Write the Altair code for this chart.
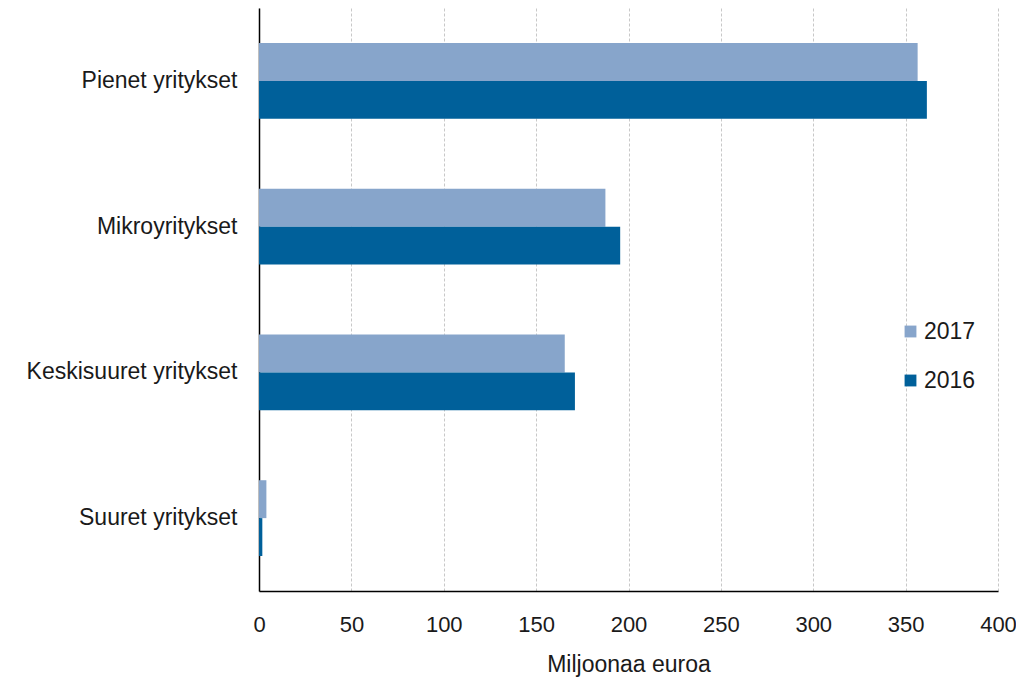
import altair as alt
import pandas as pd

categories = ["Pienet yritykset", "Mikroyritykset", "Keskisuuret yritykset", "Suuret yritykset"]
years = ["2017", "2016"]
values_2017 = [356.5, 187.5, 165.5, 4.0]
values_2016 = [361.5, 195.5, 171.0, 1.8]
x_ticks = [0, 50, 100, 150, 200, 250, 300, 350, 400]
colors = ["#87a5cb", "#00609a"]

rows = []
for c, v in zip(categories, values_2017):
    rows.append({"category": c, "year": "2017", "value": v})
for c, v in zip(categories, values_2016):
    rows.append({"category": c, "year": "2016", "value": v})
df = pd.DataFrame(rows)

font = "Liberation Sans"
fs = 22

chart = alt.Chart(df).mark_bar().encode(
    y=alt.Y("category:N", sort=categories, title=None,
            scale=alt.Scale(paddingInner=0.48, paddingOuter=0.24),
            axis=alt.Axis(labelFontSize=23, labelFont=font, labelColor="#1a1a1a",
                          ticks=False, labelPadding=22, domainColor="#000000",
                          domainWidth=1.5, grid=False, labelLimit=300)),
    yOffset=alt.YOffset("year:N", sort=years),
    x=alt.X("value:Q", title="Miljoonaa euroa",
            scale=alt.Scale(domain=[0, 400], nice=False),
            axis=alt.Axis(values=x_ticks, labelFontSize=fs, labelFont=font,
                          labelColor="#1a1a1a", ticks=False, labelPadding=23,
                          labelFlush=False,
                          titleFontSize=23, titleFont=font, titleFontWeight="normal",
                          titleColor="#1a1a1a", titlePadding=18,
                          domainColor="#000000", domainWidth=1.5,
                          grid=True, gridColor="#c8c8c8", gridDash=[3, 2], gridWidth=1)),
    color=alt.Color("year:N", sort=years,
                    scale=alt.Scale(domain=years, range=colors),
                    legend=alt.Legend(title=None, orient="none", legendX=640, legendY=312,
                                      symbolType="square", symbolSize=140,
                                      symbolStrokeWidth=0,
                                      labelFontSize=23, labelFont=font,
                                      labelColor="#1a1a1a", rowPadding=25,
                                      labelOffset=2)),
).properties(
    width=739, height=583,
    padding={"left": 251, "top": 0, "right": 18, "bottom": 92},
    autosize=alt.AutoSizeParams(type="none"),
).configure_view(stroke=None)

chart.save("out.html", embed_options={"renderer": "svg", "actions": False})
